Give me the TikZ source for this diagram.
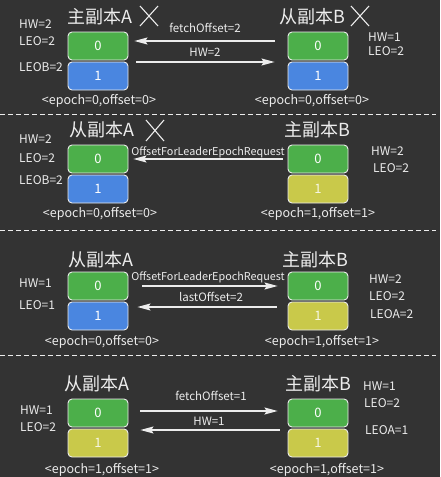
\documentclass[tikz,border=0pt]{standalone}
\usepackage{fontspec}
\setmainfont{Noto Sans CJK SC}
\usetikzlibrary{arrows.meta}
\definecolor{bg}{HTML}{333333}
\definecolor{gbox}{HTML}{4CAF4A}
\definecolor{bbox}{HTML}{4A86E0}
\definecolor{ybox}{HTML}{C9C94A}
\definecolor{fg}{HTML}{ECECEC}
\tikzset{
  cell/.style={draw=fg, line width=0.9pt, rounded corners=4pt, minimum width=60pt, minimum height=28pt, inner sep=0pt, text=white, font=\fontsize{13}{13}\selectfont},
  gcell/.style={cell, fill=gbox},
  bcell/.style={cell, fill=bbox},
  ycell/.style={cell, fill=ybox, text=white!85!ybox},
  ttl/.style={text=fg, font=\fontsize{18}{18}\selectfont, inner sep=0pt},
  info/.style={text=fg, font=\fontsize{12}{12}\selectfont, inner sep=0pt, anchor=west},
  ep/.style={text=fg, font=\fontsize{12.5}{12.5}\selectfont, inner sep=0pt},
  lbl/.style={text=fg, font=\fontsize{11.5}{11.5}\selectfont, inner sep=0pt},
  lbls/.style={text=fg, font=\fontsize{10.8}{10.8}\selectfont, inner sep=0pt},
  arr/.style={draw=fg, line width=1.1pt, -{Stealth[length=13pt,width=7pt,inset=2pt]}},
  sep/.style={draw=fg, line width=1pt, dash pattern=on 5pt off 3pt},
  crs/.style={draw=fg, line width=1.1pt}
}
\begin{document}
\begin{tikzpicture}[x=1pt,y=-1pt]
\fill[bg] (0,0) rectangle (440,477);
\useasboundingbox (0,0) rectangle (440,477);

% separators
\draw[sep] (0,114) -- (436,114);
\draw[sep] (0,230) -- (436,230);
\draw[sep] (0,355) -- (436,355);

% ---------- Panel 1 ----------
\node[ttl] (t1a) at (100,17) {主副本A};
\draw[crs] (140,6) -- (158,26) (158,6) -- (140,26);
\node[ttl] (t1b) at (312,17) {从副本B};
\draw[crs] (351,6) -- (369,26) (369,6) -- (351,26);
\node[gcell] (a1x) at (98,46) {0};
\node[bcell] (a1y) at (98,76) {1};
\node[gcell] (b1x) at (318,46) {0};
\node[bcell] (b1y) at (318,76) {1};
\node[info] (i1a) at (19,24) {HW=2};
\node[info] (i1b) at (19,41) {LEO=2};
\node[info] (i1c) at (19,67) {LEOB=2};
\node[info] (i1d) at (368,37) {HW=1};
\node[info] (i1e) at (368,51) {LEO=2};
\node[ep] (e1a) at (99,101) {<epoch=0,offset=0>};
\node[ep] (e1b) at (312,101) {<epoch=0,offset=0>};
\draw[arr] ([xshift=-13pt,yshift=5pt]b1x.west) -- ([xshift=6pt,yshift=5pt]a1x.east);
\draw[arr] ([xshift=8pt,yshift=-16pt]a1x.east) -- ([xshift=-13pt,yshift=-16pt]b1x.west);
\node[lbl] (l1a) at (205,28) {fetchOffset=2};
\node[lbl] (l1b) at (205,52) {HW=2};

% ---------- Panel 2 ----------
\node[ttl] (t2a) at (102,130) {从副本A};
\draw[crs] (146,120) -- (164,141) (164,120) -- (146,141);
\node[ttl] (t2b) at (317,130) {主副本B};
\node[gcell] (a2x) at (98,159) {0};
\node[bcell] (a2y) at (98,189) {1};
\node[gcell] (b2x) at (318,159) {0};
\node[ycell] (b2y) at (318,189) {1};
\node[info] (i2a) at (19,139) {HW=2};
\node[info] (i2b) at (19,158) {LEO=2};
\node[info] (i2c) at (19,180) {LEOB=2};
\node[info] (i2d) at (371,151) {HW=2};
\node[info] (i2e) at (373,168) {LEO=2};
\node[ep] (e2a) at (100,214) {<epoch=0,offset=0>};
\node[ep] (e2b) at (318,214) {<epoch=1,offset=1>};
\node[lbls] (l2a) at (208,152) {OffsetForLeaderEpochRequest};
\draw[arr] ([xshift=-5pt]b2x.west) -- ([xshift=5pt]a2x.east);

% ---------- Panel 3 ----------
\node[ttl] (t3a) at (101,260) {从副本A};
\node[ttl] (t3b) at (315,260) {主副本B};
\node[gcell] (a3x) at (98,286) {0};
\node[bcell] (a3y) at (98,316) {1};
\node[gcell] (b3x) at (318,286) {0};
\node[ycell] (b3y) at (318,316) {1};
\node[info] (i3a) at (19,283) {HW=1};
\node[info] (i3b) at (19,305) {LEO=1};
\node[info] (i3c) at (369,279) {HW=2};
\node[info] (i3d) at (369,296) {LEO=2};
\node[info] (i3e) at (370,314) {LEOA=2};
\node[ep] (e3a) at (102,342) {<epoch=0,offset=0>};
\node[ep] (e3b) at (322,342) {<epoch=1,offset=1>};
\node[lbls] (l3a) at (208,277) {OffsetForLeaderEpochRequest};
\draw[arr] ([xshift=14pt]a3x.east) -- ([xshift=-10pt]b3x.west);
\node[lbl] (l3b) at (211,297) {lastOffset=2};
\draw[arr] ([xshift=-11pt,yshift=-21pt]b3x.west) -- ([xshift=9pt,yshift=-21pt]a3x.east);

% ---------- Panel 4 ----------
\node[ttl] (t4a) at (97,384) {从副本A};
\node[ttl] (t4b) at (318,384) {主副本B};
\node[gcell] (a4x) at (98,413) {0};
\node[ycell] (a4y) at (98,443) {1};
\node[gcell] (b4x) at (318,413) {0};
\node[ycell] (b4y) at (318,443) {1};
\node[info] (i4a) at (20,410) {HW=1};
\node[info] (i4b) at (20,427) {LEO=2};
\node[info] (i4c) at (363,386) {HW=1};
\node[info] (i4d) at (364,403) {LEO=2};
\node[info] (i4e) at (365,430) {LEOA=1};
\node[ep] (e4a) at (102,470) {<epoch=1,offset=1>};
\node[ep] (e4b) at (327,470) {<epoch=1,offset=1>};
\node[lbl] (l4a) at (211,396) {fetchOffset=1};
\draw[arr] ([xshift=12pt,yshift=2pt]a4x.east) -- ([xshift=-10pt,yshift=2pt]b4x.west);
\node[lbl] (l4b) at (209,421) {HW=1};
\draw[arr] ([xshift=-8pt,yshift=-17pt]b4x.west) -- ([xshift=12pt,yshift=-17pt]a4x.east);
\end{tikzpicture}
\end{document}
